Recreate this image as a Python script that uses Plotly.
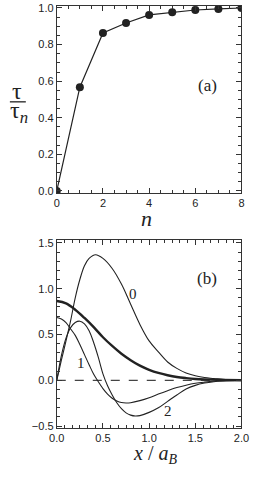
import plotly.graph_objects as go

# ---- panel (a) data ----
n_vals = [0, 1, 2, 3, 4, 5, 6, 7, 8]
tau_ratio = [0.0, 0.567, 0.863, 0.918, 0.962, 0.977, 0.989, 0.995, 1.0]

# ---- panel (b) data ----
x0 = [0, 0.05, 0.1, 0.15, 0.2, 0.25, 0.3, 0.35, 0.42, 0.5, 0.6, 0.7, 0.8, 0.9, 1.0,
      1.1, 1.2, 1.3, 1.4, 1.5, 1.6, 1.7, 1.8, 1.9, 2.0]
y0 = [0, 0.22, 0.43, 0.65, 0.9, 1.1, 1.25, 1.33, 1.37, 1.33, 1.22, 1.05, 0.83, 0.61, 0.43,
      0.31, 0.2, 0.13, 0.08, 0.05, 0.03, 0.02, 0.01, 0.005, 0.0]

x_thick = [0, 0.1, 0.2, 0.3, 0.4, 0.5, 0.6, 0.7, 0.8, 0.9, 1.0, 1.1, 1.2, 1.3, 1.4, 1.5,
           1.6, 1.8, 2.0]
y_thick = [0.865, 0.84, 0.77, 0.68, 0.58, 0.47, 0.375, 0.29, 0.22, 0.16, 0.115, 0.08,
           0.055, 0.036, 0.024, 0.015, 0.01, 0.004, 0.0]

x1 = [0, 0.05, 0.1, 0.15, 0.2, 0.25, 0.3, 0.35, 0.4, 0.44, 0.5, 0.55, 0.6, 0.65, 0.7,
      0.75, 0.8, 0.9, 1.0, 1.1, 1.2, 1.3, 1.4, 1.5, 1.6, 1.7, 1.8, 2.0]
y1 = [0.685, 0.67, 0.63, 0.56, 0.49, 0.39, 0.28, 0.17, 0.065, 0.0, -0.09, -0.15, -0.195,
      -0.225, -0.243, -0.248, -0.245, -0.222, -0.19, -0.15, -0.113, -0.079, -0.053,
      -0.033, -0.02, -0.01, -0.005, 0.0]

x2 = [0, 0.05, 0.1, 0.15, 0.2, 0.25, 0.3, 0.35, 0.4, 0.45, 0.5, 0.55, 0.6, 0.65, 0.7,
      0.75, 0.8, 0.85, 0.9, 1.0, 1.1, 1.2, 1.3, 1.4, 1.5, 1.6, 1.7, 1.8, 2.0]
y2 = [0, 0.27, 0.46, 0.575, 0.63, 0.645, 0.615, 0.54, 0.41, 0.25, 0.07, -0.06, -0.16,
      -0.245, -0.31, -0.355, -0.38, -0.39, -0.385, -0.35, -0.3, -0.23, -0.16, -0.095,
      -0.055, -0.03, -0.015, -0.007, 0.0]

zero_x = [0, 2]
zero_y = [0, 0]

W, H = 257, 479
ink = "#222222"

def px(x):
    return x / W

def py(y):
    return 1 - y / H

fig = go.Figure()

fig.add_trace(go.Scatter(x=n_vals, y=tau_ratio, mode="lines+markers",
                         line=dict(color=ink, width=1.2),
                         marker=dict(color=ink, size=8),
                         cliponaxis=True, xaxis="x", yaxis="y"))

fig.add_trace(go.Scatter(x=zero_x, y=zero_y, mode="lines",
                         line=dict(color="#444444", width=1.2, dash="dash"),
                         xaxis="x2", yaxis="y2"))
fig.add_trace(go.Scatter(x=x0, y=y0, mode="lines", line=dict(color=ink, width=1.1, shape="spline"),
                         xaxis="x2", yaxis="y2"))
fig.add_trace(go.Scatter(x=x1, y=y1, mode="lines", line=dict(color=ink, width=1.1, shape="spline"),
                         xaxis="x2", yaxis="y2"))
fig.add_trace(go.Scatter(x=x2, y=y2, mode="lines", line=dict(color=ink, width=1.1, shape="spline"),
                         xaxis="x2", yaxis="y2"))
fig.add_trace(go.Scatter(x=x_thick, y=y_thick, mode="lines", line=dict(color=ink, width=2.4, shape="spline"),
                         xaxis="x2", yaxis="y2"))

tickfont = dict(family="Liberation Sans, Arial", size=11, color=ink)
common = dict(showgrid=False, zeroline=False, showline=True, linecolor="#333333", linewidth=1,
              mirror="allticks", ticks="inside", ticklen=5, tickcolor="#333333", tickwidth=1,
              tickfont=tickfont, ticklabeloverflow="allow")

xd = [px(52), px(249)]
fig.update_layout(
    width=W, height=H, margin=dict(l=0, r=0, t=0, b=0),
    paper_bgcolor="white", plot_bgcolor="white", showlegend=False,
    xaxis=dict(domain=xd, range=[0, 8], dtick=2, tick0=0, anchor="y",
               minor=dict(dtick=0.5, ticks="inside", ticklen=3, tickcolor="#333333"), **common),
    yaxis=dict(domain=[py(192.5), py(2)], range=[-0.013, 1.011], dtick=0.2, tick0=0,
               tickformat=".1f", anchor="x",
               minor=dict(dtick=0.05, ticks="inside", ticklen=3, tickcolor="#333333"), **common),
    xaxis2=dict(domain=xd, range=[0, 2], dtick=0.5, tick0=0, tickformat=".1f", anchor="y2",
                minor=dict(dtick=1/12, ticks="inside", ticklen=3, tickcolor="#333333"), **common),
    yaxis2=dict(domain=[py(430.7), py(240)], range=[-0.515, 1.531], dtick=0.5, tick0=0,
                tickformat=".1f", anchor="x2",
                minor=dict(dtick=0.1, ticks="inside", ticklen=3, tickcolor="#333333"), **common),
)

serif = "Liberation Serif, Times New Roman, serif"

def note(text, x, y, size, xref="paper", yref="paper"):
    return dict(text=text, x=x, y=y, xref=xref, yref=yref, showarrow=False,
                xanchor="center", yanchor="middle",
                font=dict(family=serif, size=size, color=ink))

ann = [
    note("<i>n</i>", px(148), py(218), 22),
    note("<i>x</i> / <i>a<sub>B</sub></i>", px(157), py(458), 20),
    note("τ", px(10), py(88), 24),
    note("τ<i><sub>n</sub></i>", px(12), py(110), 24),
    note("(a)", px(212.5), py(83), 17),
    note("(b)", px(212.5), py(279), 17),
    note("0", 0.825, 0.94, 15, "x2", "y2"),
    note("1", 0.257, 0.19, 15, "x2", "y2"),
    note("2", 1.208, -0.33, 15, "x2", "y2"),
]
fig.update_layout(annotations=ann)

fig.add_shape(type="line", xref="paper", yref="paper", x0=px(2), x1=px(19),
              y0=py(99.5), y1=py(99.5), line=dict(color=ink, width=1.3))

fig.write_html("out.html", config={"displayModeBar": False},
               post_script="document.body.style.margin='0';document.body.style.overflow='hidden';")
